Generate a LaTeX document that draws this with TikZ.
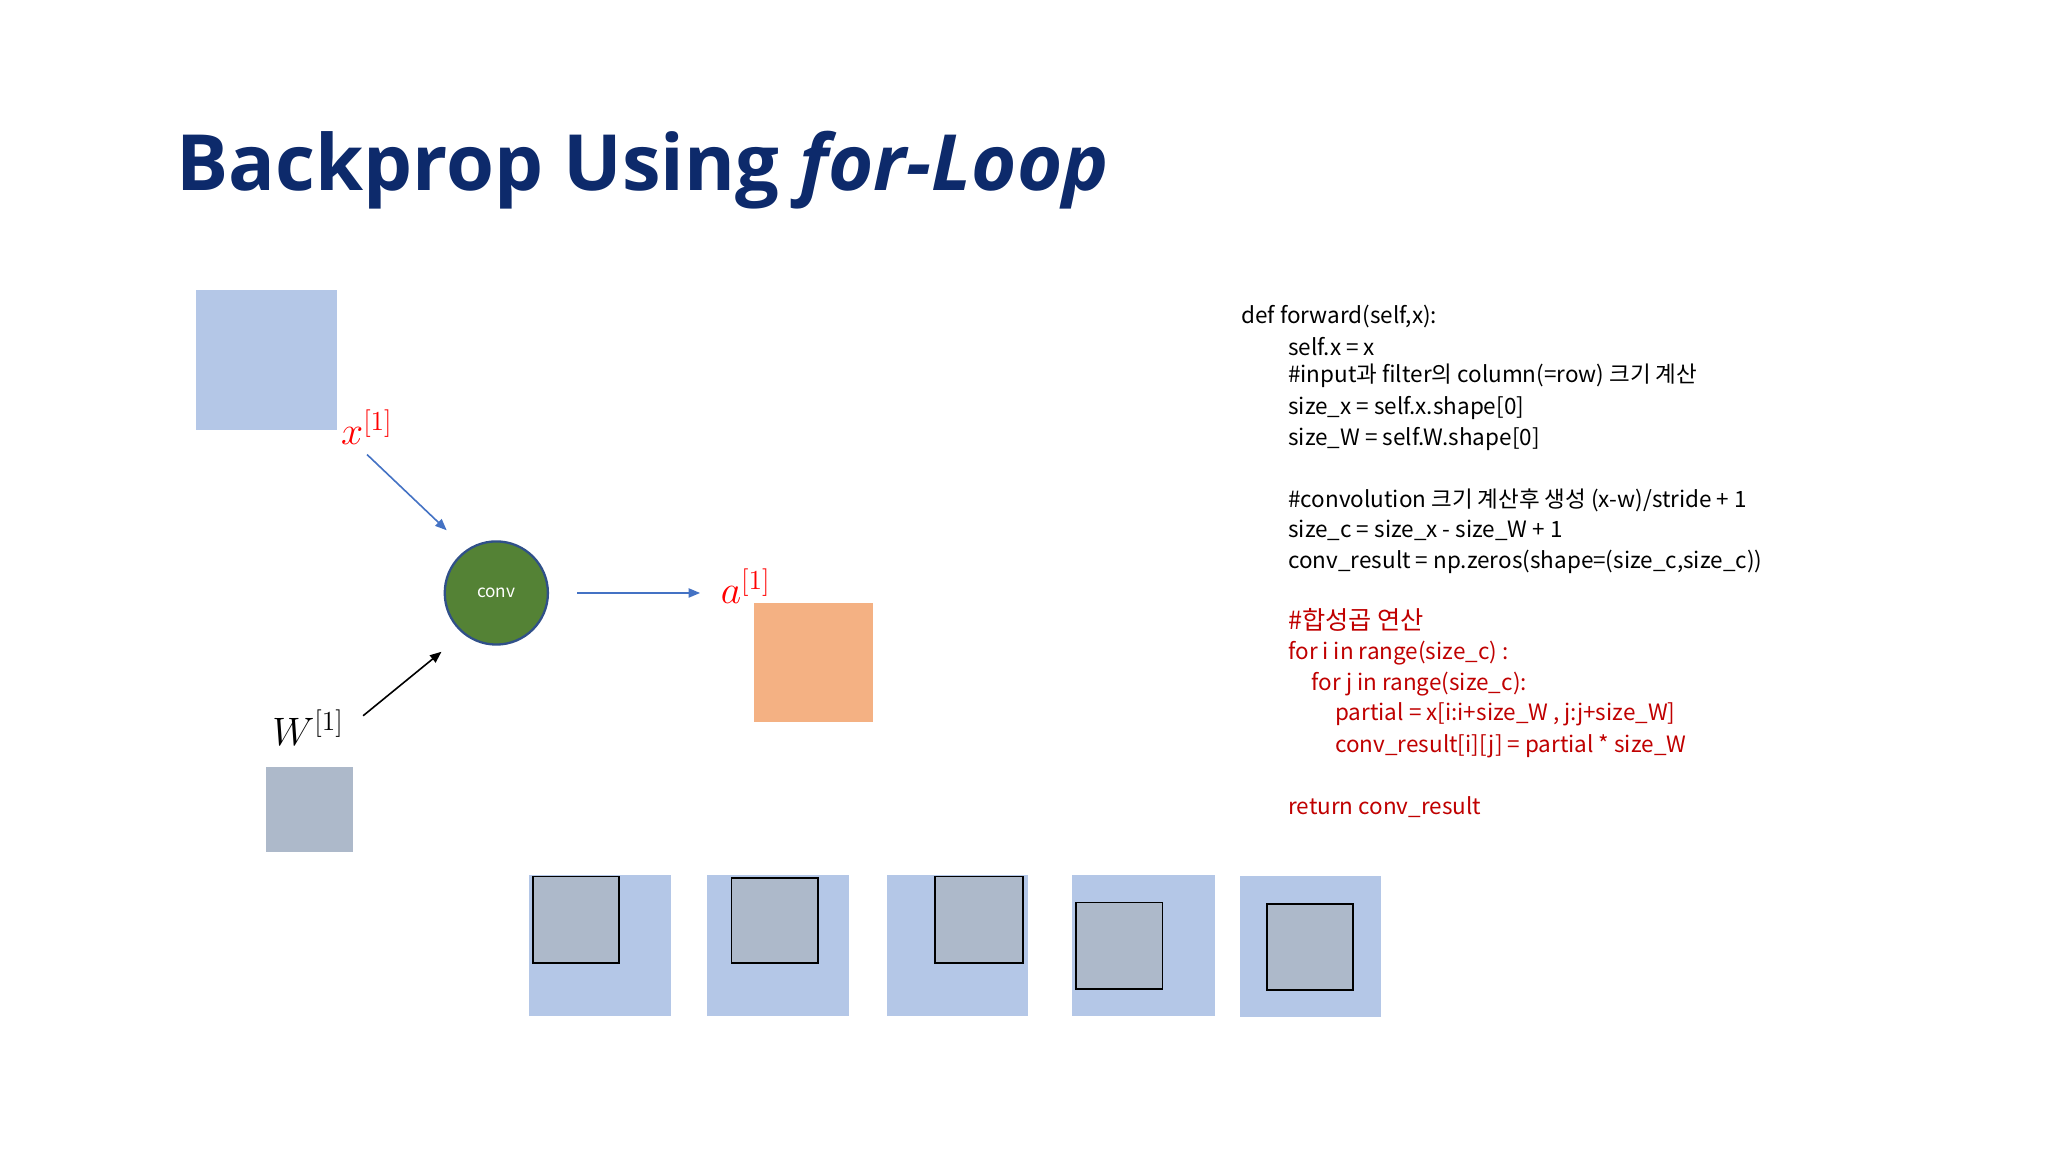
\documentclass[tikz,border=0pt]{standalone}
\usepackage{fontspec}
\setmainfont{Noto Sans CJK KR}
\newfontfamily\titlefont{Open Sans}
\usetikzlibrary{arrows.meta}
\definecolor{navy}{HTML}{0D2A6B}
\definecolor{lblue}{HTML}{B4C7E7}
\definecolor{lgray}{HTML}{ADB9CA}
\definecolor{orng}{HTML}{F4B183}
\definecolor{grn}{HTML}{548235}
\definecolor{arrblue}{HTML}{4472C4}
\definecolor{codered}{HTML}{C00000}
\begin{document}
\begin{tikzpicture}[x=0.02cm,y=-0.02cm,
  gsq/.style={fill=lgray,draw=black,line width=0.8pt},
  code/.style={anchor=west,inner sep=0,font=\fontsize{9.8}{11}\selectfont},
  lab/.style={inner sep=0,font=\fontsize{16.5}{17}\selectfont},
  arr/.style={-{Triangle[length=5pt,width=4pt]},line width=0.7pt}]
\useasboundingbox[fill=white] (0,0) rectangle (1568,882);
\node[anchor=west,inner sep=0,text=navy,font=\titlefont\bfseries\fontsize{33.8}{38}\selectfont] (title) at (135,130) {Backprop Using \textit{for-Loop}};
% left diagram
\fill[lblue] (150,222) rectangle (258,329);
\node[lab,text=red] (x1) at (281,327) {$x^{[1]}$};
\node[circle,fill=grn,draw=arrblue!70!black,line width=1pt,minimum size=1.58cm,text=white,font=\fontsize{7.5}{8}\selectfont] (conv) at (380,454) {conv};
\coordinate (xs) at (281,348); \coordinate (xe) at (342,406);
\draw[arr,arrblue] (xs) -- (xe);
\coordinate (cs) at (442,454); \coordinate (ce) at (536,454);
\draw[arr,arrblue] (cs) -- (ce);
\node[lab,text=red] (a1) at (571,449) {$a^{[1]}$};
\fill[orng] (577,462) rectangle (668,553);
\node[lab] (w1) at (236,557) {$W^{[1]}$};
\coordinate (ws) at (278,548); \coordinate (we) at (338,499);
\draw[arr,black] (ws) -- (we);
\fill[lgray] (204,587) rectangle (270,652);
% bottom
\fill[lblue] (405,670) rectangle (514,778);
\draw[gsq] (408,671) rectangle (474,737);
\fill[lblue] (541,670) rectangle (650,778);
\draw[gsq] (560,672) rectangle (626,737);
\fill[lblue] (679,670) rectangle (787,778);
\draw[gsq] (716,671) rectangle (783,737);
\fill[lblue] (821,670) rectangle (930,778);
\draw[gsq] (824,691) rectangle (890,757);
\fill[lblue] (949,671) rectangle (1057,779);
\draw[gsq] (970,692) rectangle (1036,758);
% code
\node[code] (c1) at (950,242) {def forward(self,x):};
\node[code] (c2) at (986,265) {self.x = x};
\node[code] (c3) at (986,288) {\#input과 filter의 column(=row) 크기 계산};
\node[code] (c4) at (986,312) {size\_x = self.x.shape[0]};
\node[code] (c5) at (986,336) {size\_W = self.W.shape[0]};
\node[code] (c6) at (986,383) {\#convolution 크기 계산후 생성 (x-w)/stride + 1};
\node[code] (c7) at (986,406) {size\_c = size\_x - size\_W + 1};
\node[code] (c8) at (986,430) {conv\_result = np.zeros(shape=(size\_c,size\_c))};
\begin{scope}[every node/.append style={text=codered}]
\node[code,font=\fontsize{11}{12}\selectfont] (c9) at (986,475) {\#합성곱 연산};
\node[code] (c10) at (986,500) {for i in range(size\_c) :};
\node[code] (c11) at (1004,524) {for j in range(size\_c):};
\node[code] (c12) at (1022,547) {partial = x[i:i+size\_W , j:j+size\_W]};
\node[code] (c13) at (1022,571) {conv\_result[i][j] = partial * size\_W};
\node[code] (c14) at (986,618) {return conv\_result};
\end{scope}
\end{tikzpicture}
\end{document}
